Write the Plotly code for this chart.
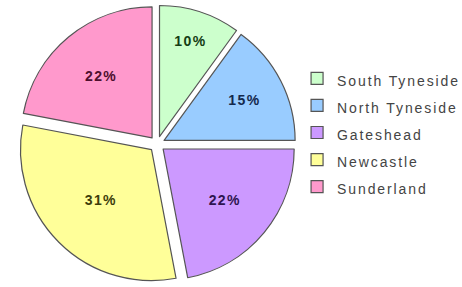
import plotly.graph_objects as go

labels = ["South Tyneside", "North Tyneside", "Gateshead", "Newcastle", "Sunderland"]
values = [10, 15, 22, 31, 22]
colors = ["#ccffcc", "#99ccff", "#cc99ff", "#ffff99", "#ff99cc"]
text_colors = ["#143d14", "#13294d", "#2e1450", "#3d3d0a", "#4d0f2e"]
pulls = [0.06, 0.06, 0.06, 0.06, 0.06]

legend_labels = ['<span style="font-size:14px;letter-spacing:1.9px">%s</span>' % l for l in labels]

fig = go.Figure(go.Pie(
    labels=legend_labels,
    values=values,
    sort=False,
    direction="clockwise",
    rotation=0,
    pull=pulls,
    marker=dict(colors=colors, line=dict(color="#555555", width=1.2)),
    texttemplate='<span style="letter-spacing:1.4px">%{percent:.0%}</span>',
    textposition="inside",
    insidetextorientation="horizontal",
    insidetextfont=dict(family="Liberation Sans, Arial", size=14, color=text_colors, weight="bold"),
    hoverinfo="skip",
    domain=dict(x=[0.039, 0.641], y=[0.0143, 0.9822]),
))

fig.update_layout(
    width=462, height=287,
    margin=dict(l=0, r=0, t=0, b=0, autoexpand=False),
    paper_bgcolor="white",
    plot_bgcolor="white",
    showlegend=True,
    legend=dict(
        x=0.643, xanchor="left", y=0.537, yanchor="middle",
        font=dict(family="Liberation Sans, Arial", size=18.5, color="#444444"),
        bgcolor="rgba(0,0,0,0)", borderwidth=0,
        traceorder="normal",
    ),
)

fig.write_html("out.html", config={"displayModeBar": False},
               post_script="document.body.style.margin='0';document.body.style.overflow='hidden';")
